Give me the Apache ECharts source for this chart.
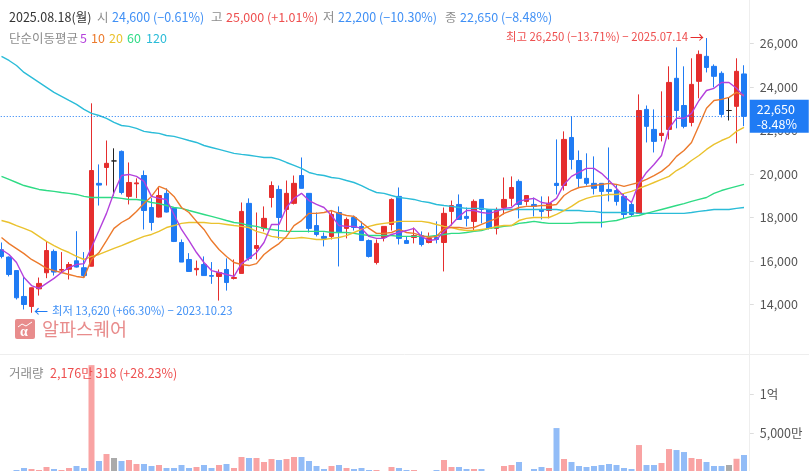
<!DOCTYPE html>
<html>
<head>
<meta charset="utf-8">
<title>알파스퀘어</title>
<style>
html, body { margin: 0; padding: 0; background: #fff; }
#chart { width: 809px; height: 471px; }
</style>
<script src="https://cdn.jsdelivr.net/npm/echarts@6/dist/echarts.min.js"></script>
</head>
<body>
<div id="chart"></div>
<script>
const opens = [
  16520,16180,15560,14370,13910,14720,15460,16440,15580,15620,
  16010,15690,15760,19570,20300,20600,21040,18970,19550,19930,
  18460,18020,19110,18420,16850,16070,15600,15840,15330,15290,
  15610,15200,15430,18650,16580,17500,18920,19290,18370,18650,
  19930,19110,17630,17130,17130,18230,17500,18000,17590,16940,
  15930,17080,17680,18970,16940,17080,17170,16850,17080,16850,
  18280,18600,18050,17820,18830,18370,17500,18460,18880,19660,
  18740,18600,18370,18320,19570,19470,21680,20620,19800,19570,
  19570,19290,19240,18970,18600,18190,22970,22050,21770,22050,
  24400,23150,22370,24260,25410,24950,24630,22920,23110,24600
]
const closes = [
  16210,15380,14310,14000,14770,14970,16480,15490,15610,15840,
  15720,15330,20160,19490,20490,20600,19150,19610,19590,18320,
  17770,19010,18250,16900,15950,15520,15660,15330,15300,15470,
  15010,15240,18280,16120,16710,17960,19470,18000,19110,19570,
  19340,17500,17220,17040,18140,17310,17910,17540,16940,16210,
  16810,17590,18830,17040,16810,17170,16760,17040,16990,18190,
  18550,17910,17960,18740,18370,17500,18320,18830,19380,18600,
  19010,18510,18280,18650,19470,21590,20670,19800,19570,19340,
  19200,19200,18740,18140,18140,22920,22190,21500,21870,24210,
  22920,22190,24120,25500,24900,24490,22740,22920,24720,22650
]
const highs = [
  16850,16210,15560,15260,14780,15240,16900,16530,16410,15950,
  17370,16410,23250,20440,21540,21180,21080,20530,19800,20160,
  18890,19400,19340,18420,16990,16360,16020,16210,15950,15610,
  16120,16070,18690,18880,18230,18510,19660,19470,19700,19930,
  20760,19110,18230,17310,18320,18510,18000,18090,17820,16990,
  16990,17590,18880,19380,17130,17540,17360,17310,17820,18460,
  18780,19060,18460,18830,18830,18370,18460,19840,19890,19750,
  19010,18920,18970,18970,21590,21960,22650,21080,20950,20810,
  19570,21220,19520,19110,18690,23660,23150,22970,23800,24950,
  25820,24950,25320,25680,26250,25040,24720,23520,25320,25000
]
const lows = [
  16120,15290,14230,13770,13620,14410,15210,15330,15460,15150,
  15700,15260,15750,18550,19470,19010,19060,18600,18890,17450,
  17400,18000,18230,16870,15950,15520,15330,15330,14950,14180,
  14640,15150,15430,16020,16070,17360,18460,16990,17360,18600,
  19340,17310,17130,16670,16990,15750,17040,17400,16940,16160,
  15840,16900,17400,16760,16810,16810,16670,16810,16810,15520,
  17630,17910,17590,17360,17730,17450,17220,18140,18510,17960,
  18550,18050,17910,17960,19060,19240,20210,19380,19470,19060,
  17540,18740,18550,17960,18050,18190,21450,20990,21500,21590,
  22100,22100,22190,23480,24670,23980,22600,22460,21410,22200
]
const ma5 = [
  16530,16300,15930,15240,14870,14740,14970,15200,15470,15700,
  15840,15880,16620,17400,18190,19150,19930,19980,19890,19660,
  18970,18880,18830,18140,17450,16940,16390,15930,15560,15470,
  15380,15290,15880,16120,16390,16850,17680,17680,18460,18880,
  19110,18780,18600,18460,18090,17630,17590,17590,17500,17130,
  17040,17040,17220,17310,17400,17500,17130,16940,16990,17360,
  17680,18050,18320,18320,18230,18190,18280,18420,18460,18740,
  18830,18880,18690,18640,18880,19520,19890,20070,20260,20260,
  20030,19700,19340,18970,18690,19570,20070,20440,20850,22100,
  22560,22560,22790,23380,23840,23940,24210,24210,23940,23570
]
const ma10 = [
  17080,16800,16570,16340,16070,15880,15660,15560,15470,15380,
  15290,15240,16070,16390,16940,17500,17770,17960,18280,18640,
  18970,19430,19290,18970,18460,18230,17820,17450,16940,16530,
  16210,15930,15840,15790,15880,16300,16570,16800,17130,17630,
  17860,18190,18190,18230,18320,18190,18090,18050,17770,17500,
  17270,17270,17310,17450,17310,17270,17170,17080,17130,17500,
  17540,17540,17500,17540,17680,17820,17960,18190,18320,18460,
  18510,18510,18550,18550,18600,19010,19240,19380,19430,19470,
  19520,19570,19520,19430,19520,19610,19750,19930,20120,20400,
  20810,21080,21450,22230,23020,23380,23430,23520,23750,23610
]
const ma20 = [
  17860,17770,17630,17500,17360,17130,16900,16710,16530,16390,
  16210,16070,16210,16300,16440,16580,16710,16850,16990,17130,
  17220,17360,17540,17630,17730,17770,17770,17770,17730,17730,
  17680,17630,17590,17540,17360,17270,17130,17080,17040,17040,
  17080,17040,16990,16990,17040,17080,17170,17310,17450,17590,
  17680,17730,17770,17820,17820,17820,17820,17770,17680,17590,
  17540,17450,17400,17400,17450,17500,17590,17630,17630,17860,
  17960,18000,18000,18000,18140,18320,18510,18740,18880,18970,
  19010,19060,19060,19110,19200,19340,19470,19610,19750,19890,
  20160,20350,20620,20850,21130,21360,21540,21680,21960,22140
]
const ma60 = [
  19890,19750,19610,19470,19380,19290,19240,19200,19150,19110,
  19060,18970,18920,18920,18920,18920,18880,18830,18830,18780,
  18690,18640,18550,18460,18420,18320,18230,18140,18050,17960,
  17860,17770,17730,17630,17590,17500,17450,17400,17360,17360,
  17360,17360,17360,17360,17310,17310,17310,17270,17220,17170,
  17170,17170,17170,17130,17130,17130,17130,17130,17170,17220,
  17270,17270,17310,17360,17400,17500,17540,17590,17630,17730,
  17770,17820,17770,17730,17730,17730,17730,17770,17770,17770,
  17770,17820,17860,17960,18050,18090,18190,18280,18370,18460,
  18550,18640,18740,18830,18920,19110,19240,19340,19430,19520
]
const ma120 = [
  25410,25220,24990,24670,24440,24210,23980,23750,23570,23380,
  23200,22970,22790,22690,22560,22370,22230,22190,22100,21960,
  21910,21870,21770,21730,21640,21540,21450,21310,21220,21130,
  21040,20950,20900,20860,20810,20760,20760,20670,20530,20400,
  20260,20070,19980,19930,19840,19800,19700,19610,19470,19290,
  19150,19110,19010,18920,18880,18830,18740,18690,18600,18550,
  18510,18460,18420,18420,18420,18370,18370,18370,18370,18370,
  18370,18370,18370,18370,18370,18320,18320,18320,18280,18280,
  18230,18230,18230,18230,18230,18190,18190,18190,18190,18190,
  18190,18190,18230,18280,18320,18370,18370,18370,18420,18460
]
// 거래량, 단위 만
const volumes = [
  100,100,256,512,384,256,640,384,256,512,
  768,512,13700,1408,2304,1792,1408,1536,1024,1024,
  768,896,512,512,896,512,640,896,512,896,
  1024,512,1920,1792,1792,1280,1664,1536,1664,1920,
  1920,1408,768,384,768,896,512,384,512,256,
  256,100,640,512,256,256,100,100,256,1536,
  640,640,384,384,384,100,100,768,896,1280,
  100,384,640,512,5632,1664,1280,768,640,768,
  896,1024,896,512,384,3456,896,896,1152,2944,
  2816,2560,1792,1664,1280,768,768,896,1697,2176
]
const priceTicks = [14000, 16000, 18000, 20000, 22000, 24000, 26000]
const volumeTicks = [5000, 10000]
const lastPrice = 22650
const lastChange = '-8.48%'

const FONT = '"Noto Sans CJK KR", "Noto Sans", sans-serif'
const RED = '#e52e2e'
const BLUE = '#1f7bf4'
const TEXT_RED = '#ee4f4f'
const TEXT_BLUE = '#4090f5'
const GREY = '#8c8c8c'

const categories = opens.map((_, i) => i)
const candles = opens.map((o, i) => [o, closes[i], lows[i], highs[i]])
const volumeBars = volumes.map((v, i) => ({
  value: v,
  itemStyle: {
    color: closes[i] > opens[i] ? '#f9a3a3' : closes[i] < opens[i] ? '#92bcf7' : '#aaaaaa'
  }
}))

function maSeries(name, data, color) {
  return {
    name: name,
    type: 'line',
    data: data,
    xAxisIndex: 0,
    yAxisIndex: 0,
    symbol: 'none',
    silent: true,
    animation: false,
    z: 3,
    lineStyle: { color: color, width: 1.4 }
  }
}

function label(x, y, text, color, size, extra) {
  return {
    type: 'text',
    x: x,
    y: y,
    z: 20,
    silent: true,
    style: Object.assign({
      text: text,
      fill: color,
      font: (size || 12.5) + 'px ' + FONT,
      textVerticalAlign: 'middle'
    }, extra || {})
  }
}

const chart = echarts.init(document.getElementById('chart'), null, { renderer: 'canvas' })

chart.setOption({
  animation: false,
  textStyle: { fontFamily: FONT },
  grid: [
    { left: -2.25, width: 750, top: 0, height: 348, outerBoundsMode: 'none' },
    { left: -2.25, width: 750, top: 355, height: 117, outerBoundsMode: 'none' }
  ],
  xAxis: [
    { type: 'category', gridIndex: 0, data: categories, show: false },
    { type: 'category', gridIndex: 1, data: categories, show: false }
  ],
  yAxis: [
    {
      type: 'value',
      gridIndex: 0,
      position: 'right',
      offset: 2,
      min: 12000,
      max: 28000,
      interval: 2000,
      splitLine: { show: false },
      axisLine: { show: false },
      axisTick: { show: true, length: 4, lineStyle: { color: '#dddddd' }, customValues: priceTicks },
      axisLabel: {
        margin: 10,
        color: '#555555',
        fontSize: 12.5,
        fontFamily: FONT,
        customValues: priceTicks,
        formatter: v => v.toLocaleString('en-US')
      }
    },
    {
      type: 'value',
      gridIndex: 1,
      position: 'right',
      offset: 2,
      min: 0,
      max: 15000,
      interval: 5000,
      splitLine: { show: false },
      axisLine: { show: false },
      axisTick: { show: true, length: 4, lineStyle: { color: '#dddddd' }, customValues: volumeTicks },
      axisLabel: {
        margin: 10,
        color: '#555555',
        fontSize: 12.5,
        fontFamily: FONT,
        customValues: volumeTicks,
        formatter: v => v === 10000 ? '1억' : v.toLocaleString('en-US') + '만'
      }
    }
  ],
  series: [
    maSeries('120', ma120, '#2bbcd8'),
    maSeries('60', ma60, '#2fdb85'),
    maSeries('20', ma20, '#eac22e'),
    maSeries('10', ma10, '#ec7a2c'),
    maSeries('5', ma5, '#b441dc'),
    {
      name: 'price',
      type: 'candlestick',
      data: candles,
      xAxisIndex: 0,
      yAxisIndex: 0,
      barWidth: 5,
      z: 2,
      itemStyle: {
        color: RED,
        borderColor: RED,
        color0: BLUE,
        borderColor0: BLUE,
        borderColorDoji: '#222222',
        borderWidth: 1
      },
      markLine: {
        silent: true,
        symbol: 'none',
        animation: false,
        lineStyle: { color: BLUE, type: [1, 2], width: 1 },
        label: {
          show: true,
          position: 'end',
          distance: 2,
          formatter: lastPrice.toLocaleString('en-US') + '\n' + lastChange,
          color: '#ffffff',
          backgroundColor: BLUE,
          fontFamily: FONT,
          fontSize: 12.5,
          lineHeight: 15,
          width: 52,
          padding: [2, 0, 1, 7],
          align: 'left'
        },
        data: [{ yAxis: lastPrice }]
      }
    },
    {
      name: 'volume',
      type: 'bar',
      data: volumeBars,
      xAxisIndex: 1,
      yAxisIndex: 1,
      barWidth: 6
    }
  ],
  graphic: [
    // 축 경계선
    { type: 'line', silent: true, z: 1, shape: { x1: 749.5, y1: 0, x2: 749.5, y2: 471 }, style: { stroke: '#eeeeee', lineWidth: 1 } },
    { type: 'line', silent: true, z: 1, shape: { x1: 0, y1: 354.5, x2: 809, y2: 354.5 }, style: { stroke: '#eeeeee', lineWidth: 1 } },

    label(9, 17, '2025.08.18(월)', '#333333'),
    label(97, 17, '시', GREY),
    label(112, 17, '24,600 (−0.61%)', TEXT_BLUE),
    label(211, 17, '고', GREY),
    label(226, 17, '25,000 (+1.01%)', TEXT_RED),
    label(323, 17, '저', GREY),
    label(338, 17, '22,200 (−10.30%)', TEXT_BLUE),
    label(445, 17, '종', GREY),
    label(460, 17, '22,650 (−8.48%)', TEXT_BLUE),

    label(9, 38, '단순이동평균', GREY),
    label(80, 38, '5', '#b441dc'),
    label(91, 38, '10', '#ec7a2c'),
    label(109, 38, '20', '#eac22e'),
    label(127, 38, '60', '#2fdb85'),
    label(146, 38, '120', '#2bbcd8'),

    label(506, 37, '최고 26,250 (−13.71%) − 2025.07.14', TEXT_RED, 11.4),
    label(690, 37, '→', RED, 14),
    label(34, 311, '←', BLUE, 14),
    label(52, 311, '최저 13,620 (+66.30%) − 2023.10.23', TEXT_BLUE, 11.3),

    // 워터마크
    { type: 'rect', silent: true, z: 20, shape: { x: 15, y: 319, width: 20, height: 20, r: 2 }, style: { fill: '#e88c8c' } },
    label(20, 332, 'α', '#ffffff', 13, { font: 'bold 14px "Liberation Serif", serif' }),
    { type: 'polyline', silent: true, z: 21, shape: { points: [[18, 327], [22, 324], [26, 326], [32, 322]] }, style: { stroke: '#ffffff', fill: null, lineWidth: 1 } },
    label(42, 329, '알파스퀘어', '#e88c8c', 18.5),

    label(9, 373, '거래량', GREY),
    label(50, 373, '2,176만 318 (+28.23%)', TEXT_RED)
  ]
})
</script>
</body>
</html>
